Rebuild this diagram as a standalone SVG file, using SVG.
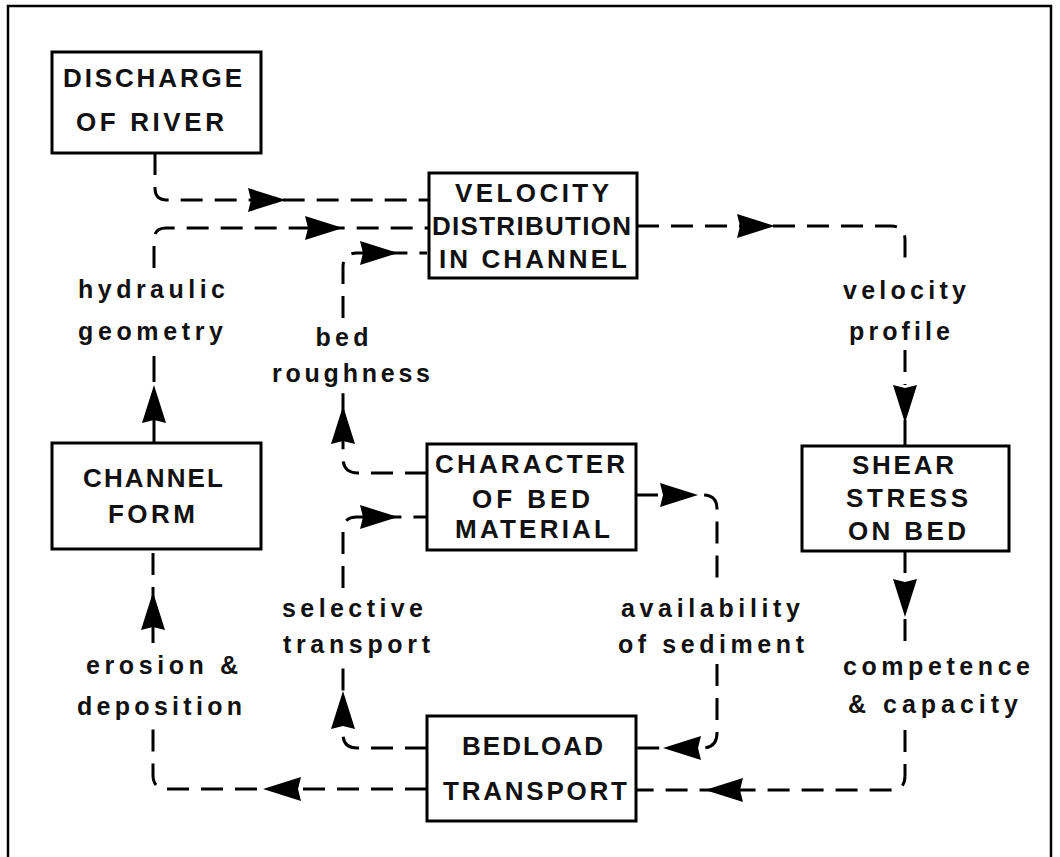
<svg xmlns="http://www.w3.org/2000/svg" xmlns:xlink="http://www.w3.org/1999/xlink" width="1060" height="857" viewBox="0 0 1060 857">
<style>
.frame{fill:none;stroke:#000;stroke-width:2.5}
.box{fill:#fff;stroke:#000;stroke-width:3}
.cap{font-family:"Liberation Sans",Arial,sans-serif;font-weight:bold;font-size:26px;fill:#111;text-anchor:middle}
.lbl{font-family:"Liberation Sans",Arial,sans-serif;font-weight:bold;font-size:25px;fill:#111;text-anchor:middle}
.dash{fill:none;stroke:#000;stroke-width:3;stroke-dasharray:22 12}
.solid{fill:none;stroke:#000;stroke-width:3}
.ah{fill:#000}
</style>
<defs>
<path id="ah" class="ah" d="M0,0 L-38,-12 L-35,0 L-38,12 Z"/>
</defs>
<rect width="1060" height="857" fill="#fff"/>
<path class="frame" d="M8,857 V6 H1051 V857"/>

<g id="connectors">
  <!-- Discharge -> Velocity -->
  <path class="dash" d="M155,153 V188 Q155,200 167,200 H429"/>
  <use xlink:href="#ah" transform="translate(286,200)"/>
  <!-- Channel Form -> Velocity (hydraulic geometry) -->
  <path class="solid" d="M154,443 V420"/>
  <use xlink:href="#ah" transform="translate(154,385) rotate(-90)"/>
  <path class="solid" d="M154,382 V356"/>
  <path class="dash" d="M154,268 V240 Q154,228 166,228 H429"/>
  <use xlink:href="#ah" transform="translate(343,228)"/>
  <!-- Character -> Velocity (bed roughness) -->
  <path class="dash" d="M427,473 H358 Q343,473 343,458 V390"/>
  <use xlink:href="#ah" transform="translate(343,406) rotate(-90)"/>
  <path class="dash" d="M343,318 V267 Q343,253 357,253 H427"/>
  <use xlink:href="#ah" transform="translate(398,253)"/>
  <!-- Character -> Bedload (availability of sediment) -->
  <path class="dash" d="M636,495 H703 Q717,495 717,509 V585"/>
  <use xlink:href="#ah" transform="translate(698,495)"/>
  <path class="dash" d="M717,664 V733 Q717,748 702,748 H636"/>
  <use xlink:href="#ah" transform="translate(663,748) rotate(180)"/>
  <!-- Bedload -> Character (selective transport) -->
  <path class="dash" d="M427,748 H357 Q343,748 343,734 V662"/>
  <use xlink:href="#ah" transform="translate(343,691) rotate(-90)"/>
  <path class="dash" d="M343,588 V531 Q343,517 357,517 H427"/>
  <use xlink:href="#ah" transform="translate(398,517)"/>
  <!-- Bedload -> Channel Form (erosion & deposition) -->
  <path class="dash" d="M427,789 H167 Q153,789 153,775 V725"/>
  <use xlink:href="#ah" transform="translate(263,789) rotate(180)"/>
  <path class="dash" d="M153,643 V549"/>
  <use xlink:href="#ah" transform="translate(153,592) rotate(-90)"/>
  <!-- Velocity -> Shear (velocity profile) -->
  <path class="dash" d="M637,226 H891 Q905,226 905,240 V265"/>
  <use xlink:href="#ah" transform="translate(775,226)"/>
  <path class="dash" d="M905,350 V385"/>
  <path class="solid" d="M905,420 V446"/>
  <use xlink:href="#ah" transform="translate(905,423) rotate(90)"/>
  <!-- Shear -> Bedload (competence & capacity) -->
  <path class="dash" d="M905,551 V645"/>
  <use xlink:href="#ah" transform="translate(905,617) rotate(90)"/>
  <path class="dash" d="M905,730 V776 Q905,790 891,790 H636"/>
  <use xlink:href="#ah" transform="translate(705,790) rotate(180)"/>
</g>

<g id="labels">
  <text class="lbl" x="151.5" y="298" textLength="147" lengthAdjust="spacing">hydraulic</text>
  <text class="lbl" x="150.5" y="340" textLength="145" lengthAdjust="spacing">geometry</text>
  <text class="lbl" x="342" y="346" textLength="53" lengthAdjust="spacing">bed</text>
  <text class="lbl" x="351" y="382" textLength="158" lengthAdjust="spacing">roughness</text>
  <text class="lbl" x="904.5" y="299" textLength="123" lengthAdjust="spacing">velocity</text>
  <text class="lbl" x="899.5" y="340" textLength="101" lengthAdjust="spacing">profile</text>
  <text class="lbl" x="352.5" y="617" textLength="141" lengthAdjust="spacing">selective</text>
  <text class="lbl" x="356.5" y="653" textLength="147" lengthAdjust="spacing">transport</text>
  <text class="lbl" x="710.5" y="617" textLength="179" lengthAdjust="spacing">availability</text>
  <text class="lbl" x="711" y="653" textLength="186" lengthAdjust="spacing">of sediment</text>
  <text class="lbl" x="162" y="674" textLength="152" lengthAdjust="spacing">erosion &amp;</text>
  <text class="lbl" x="159.5" y="715" textLength="165" lengthAdjust="spacing">deposition</text>
  <text class="lbl" x="936.5" y="675" textLength="187" lengthAdjust="spacing">competence</text>
  <text class="lbl" x="933" y="713" textLength="170" lengthAdjust="spacing">&amp; capacity</text>
</g>

<g id="node-discharge">
  <rect class="box" x="52" y="52" width="209" height="101"/>
  <text class="cap" x="152.5" y="87" textLength="179" lengthAdjust="spacing">DISCHARGE</text>
  <text class="cap" x="150" y="131" textLength="148" lengthAdjust="spacing">OF RIVER</text>
</g>
<g id="node-velocity">
  <rect class="box" x="429" y="173" width="208" height="105"/>
  <text class="cap" x="532" y="202" textLength="154" lengthAdjust="spacing">VELOCITY</text>
  <text class="cap" x="531.5" y="235" textLength="199" lengthAdjust="spacing">DISTRIBUTION</text>
  <text class="cap" x="533" y="268" textLength="188" lengthAdjust="spacing">IN CHANNEL</text>
</g>
<g id="node-channel-form">
  <rect class="box" x="52" y="443" width="209" height="106"/>
  <text class="cap" x="153" y="487" textLength="140" lengthAdjust="spacing">CHANNEL</text>
  <text class="cap" x="151.5" y="523" textLength="87" lengthAdjust="spacing">FORM</text>
</g>
<g id="node-character">
  <rect class="box" x="427" y="444" width="209" height="106"/>
  <text class="cap" x="530" y="473" textLength="190" lengthAdjust="spacing">CHARACTER</text>
  <text class="cap" x="531" y="508" textLength="118" lengthAdjust="spacing">OF BED</text>
  <text class="cap" x="532.5" y="538" textLength="155" lengthAdjust="spacing">MATERIAL</text>
</g>
<g id="node-shear">
  <rect class="box" x="802" y="446" width="207" height="105"/>
  <text class="cap" x="903" y="474" textLength="102" lengthAdjust="spacing">SHEAR</text>
  <text class="cap" x="907" y="507" textLength="122" lengthAdjust="spacing">STRESS</text>
  <text class="cap" x="907" y="540" textLength="118" lengthAdjust="spacing">ON BED</text>
</g>
<g id="node-bedload">
  <rect class="box" x="427" y="716" width="209" height="105"/>
  <text class="cap" x="532.5" y="755" textLength="141" lengthAdjust="spacing">BEDLOAD</text>
  <text class="cap" x="535" y="800" textLength="184" lengthAdjust="spacing">TRANSPORT</text>
</g>
</svg>
